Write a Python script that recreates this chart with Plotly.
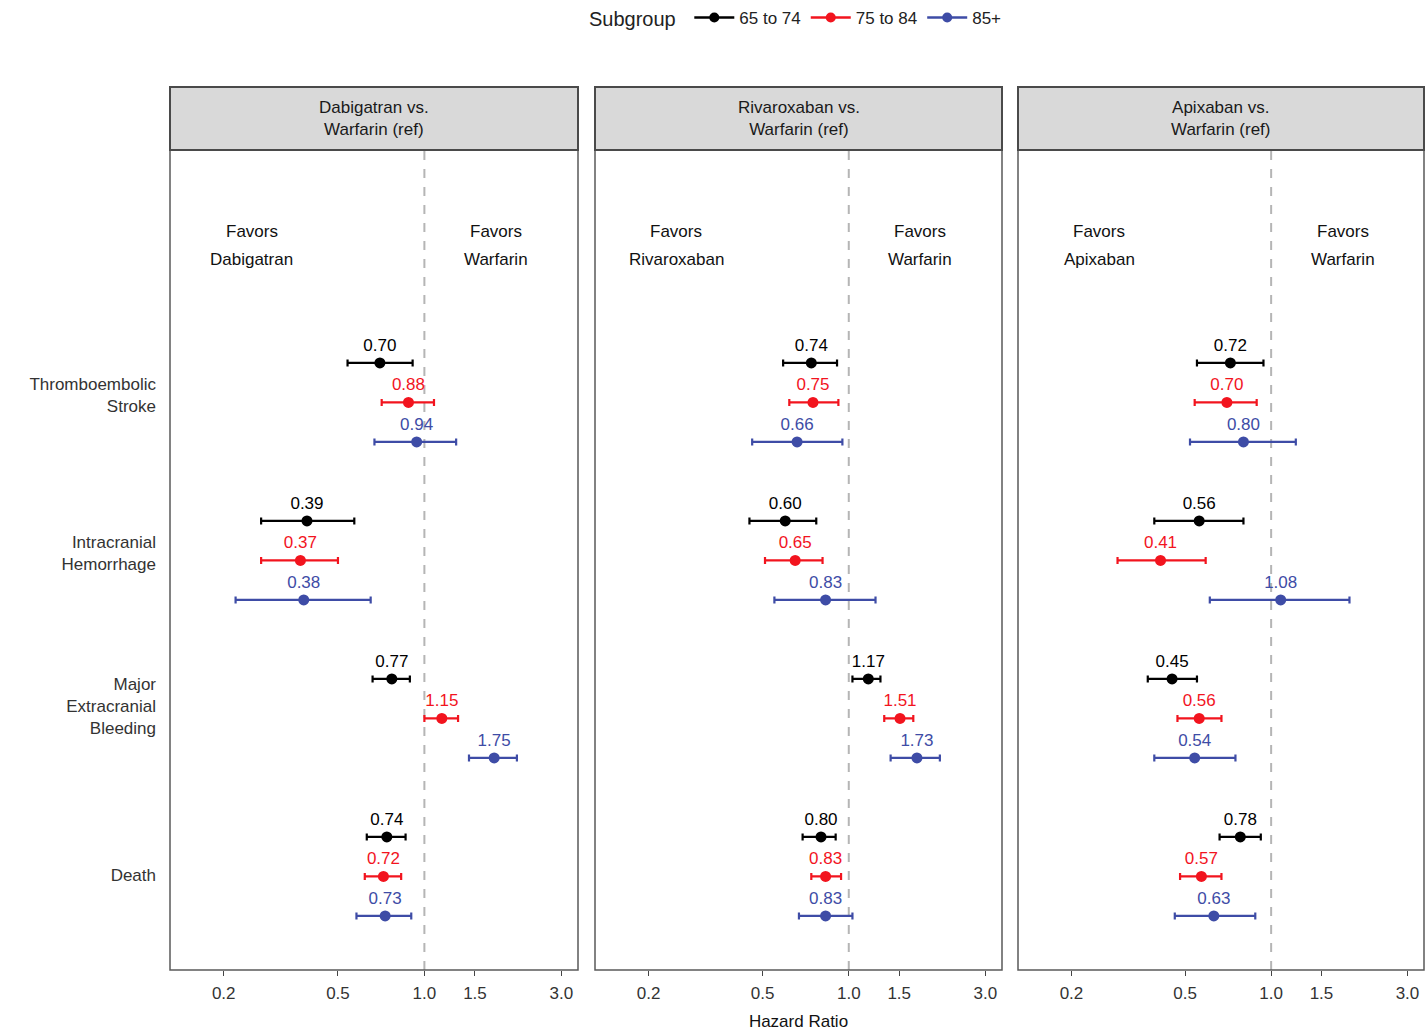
import math
import plotly.graph_objects as go

# ---- data ------------------------------------------------------------------
comparisons = ["Dabigatran", "Rivaroxaban", "Apixaban"]
outcomes = ["Thromboembolic<br>Stroke", "Intracranial<br>Hemorrhage",
            "Major<br>Extracranial<br>Bleeding", "Death"]
subgroups = ["65 to 74", "75 to 84", "85+"]

# hazard ratios [comparison][outcome][subgroup]
hr = [
    [[0.70, 0.88, 0.94], [0.39, 0.37, 0.38], [0.77, 1.15, 1.75], [0.74, 0.72, 0.73]],
    [[0.74, 0.75, 0.66], [0.60, 0.65, 0.83], [1.17, 1.51, 1.73], [0.80, 0.83, 0.83]],
    [[0.72, 0.70, 0.80], [0.56, 0.41, 1.08], [0.45, 0.56, 0.54], [0.78, 0.57, 0.63]],
]
ci_low = [
    [[0.54, 0.71, 0.67], [0.27, 0.27, 0.22], [0.66, 1.00, 1.43], [0.63, 0.62, 0.58]],
    [[0.59, 0.62, 0.46], [0.45, 0.51, 0.55], [1.03, 1.33, 1.40], [0.69, 0.74, 0.67]],
    [[0.55, 0.54, 0.52], [0.39, 0.29, 0.61], [0.37, 0.47, 0.39], [0.66, 0.48, 0.46]],
]
ci_high = [
    [[0.91, 1.08, 1.29], [0.57, 0.50, 0.65], [0.89, 1.31, 2.10], [0.86, 0.83, 0.90]],
    [[0.91, 0.92, 0.95], [0.77, 0.81, 1.24], [1.29, 1.68, 2.08], [0.90, 0.94, 1.03]],
    [[0.94, 0.89, 1.22], [0.80, 0.59, 1.88], [0.55, 0.67, 0.75], [0.92, 0.67, 0.88]],
]
tick_vals = [0.2, 0.5, 1.0, 1.5, 3.0]
tick_text = ["0.2", "0.5", "1.0", "1.5", "3.0"]

# ---- style -----------------------------------------------------------------
W, H = 1427, 1031
FONT = "Liberation Sans, Arial, sans-serif"
colors = ["#000000", "#F2141E", "#3E4CA6"]
text_gray = "#333333"
panel_px = [(170, 578), (595, 1002), (1018, 1424)]
panel_top, panel_bottom = 150, 970
strip_top = 87
x_range = [-0.886, 0.535]
row_step = 4              # rows between outcome groups
y_range = [15.37, -5.39]  # reversed: first outcome at the top
label_shift = [0.82, 0.81, 0.68, 0.96]  # vertical placement of outcome labels

def px_x(p):
    return p / W

def px_y(p):
    return 1 - p / H

fig = go.Figure()

# legend entries drawn as line + dot
for s, sg in enumerate(subgroups):
    fig.add_trace(go.Scatter(
        x=[None], y=[None], mode="lines+markers", name=sg,
        line=dict(color=colors[s], width=2.5),
        marker=dict(color=colors[s], size=10),
        legendgroup=sg, showlegend=True,
    ))

for c, comp in enumerate(comparisons):
    ax = "" if c == 0 else str(c + 1)
    for s, sg in enumerate(subgroups):
        xs, ys, plus, minus, labels = [], [], [], [], []
        for o in range(len(outcomes)):
            v = hr[c][o][s]
            xs.append(v)
            ys.append(o * row_step + s)
            plus.append(ci_high[c][o][s] - v)
            minus.append(v - ci_low[c][o][s])
            labels.append(f"{v:.2f}")
        fig.add_trace(go.Scatter(
            x=xs, y=ys, mode="markers+text",
            text=labels, textposition="top center",
            textfont=dict(family=FONT, size=17, color=colors[s]),
            marker=dict(color=colors[s], size=11),
            error_x=dict(type="data", symmetric=False, array=plus,
                         arrayminus=minus, color=colors[s], thickness=2.2,
                         width=3.5),
            name=sg, legendgroup=sg, showlegend=False,
            xaxis="x" + ax, yaxis="y" + ax, cliponaxis=False,
        ))

    x0, x1 = panel_px[c]
    xa = dict(
        type="log", range=x_range, domain=[px_x(x0), px_x(x1)],
        tickvals=tick_vals, ticktext=tick_text, ticks="outside",
        ticklen=5, tickcolor="#444444", tickwidth=1.2, ticklabelstandoff=3,
        tickfont=dict(family=FONT, size=17, color=text_gray),
        showgrid=False, zeroline=False, showline=False,
        anchor="y" + ax,
    )
    ya = dict(
        range=y_range, domain=[px_y(panel_bottom), px_y(panel_top)],
        showgrid=False, zeroline=False, showline=False,
        anchor="x" + ax,
    )
    if c == 0:
        ya.update(tickvals=[o * row_step + label_shift[o] for o in range(len(outcomes))],
                  ticktext=outcomes, ticks="", ticklabelstandoff=13,
                  tickfont=dict(family=FONT, size=17, color=text_gray))
    else:
        ya.update(showticklabels=False, matches="y")
    if c == 1:
        xa.update(title=dict(text="Hazard Ratio", standoff=14,
                             font=dict(family=FONT, size=17, color="#111111")))
    fig.layout["xaxis" + ax] = xa
    fig.layout["yaxis" + ax] = ya

    # reference line at HR = 1
    fig.add_shape(type="line", xref="x" + ax, yref="paper", x0=1, x1=1,
                  y0=px_y(panel_bottom), y1=px_y(panel_top),
                  line=dict(color="#b5b5b5", width=2, dash="dash"), layer="below")
    # panel border
    fig.add_shape(type="rect", xref="paper", yref="paper",
                  x0=px_x(x0), x1=px_x(x1), y0=px_y(panel_bottom), y1=px_y(panel_top),
                  line=dict(color="#5a5a5a", width=1.5))
    # strip header
    fig.add_shape(type="rect", xref="paper", yref="paper",
                  x0=px_x(x0), x1=px_x(x1), y0=px_y(panel_top), y1=px_y(strip_top),
                  fillcolor="#d9d9d9", line=dict(color="#4a4a4a", width=2))
    fig.add_annotation(xref="paper", yref="paper",
                       x=(px_x(x0) + px_x(x1)) / 2,
                       y=(px_y(panel_top) + px_y(strip_top)) / 2,
                       xanchor="center", yanchor="middle",
                       text=f"{comp} vs.<br>Warfarin (ref)", showarrow=False,
                       font=dict(family=FONT, size=17, color="#1a1a1a"))
    # favours labels
    for xv, words in [(0.25, ["Favors", comp]), (1.78, ["Favors", "Warfarin"])]:
        for line, yv in zip(words, [-3.32, -2.63]):
            fig.add_annotation(xref="x" + ax, yref="y" + ax,
                               x=math.log10(xv), y=yv, text=line,
                               showarrow=False,
                               font=dict(family=FONT, size=17, color="#111111"))

fig.update_layout(
    width=W, height=H,
    margin=dict(l=0, r=0, t=0, b=0),
    plot_bgcolor="white", paper_bgcolor="white",
    font=dict(family=FONT, size=17, color=text_gray),
    legend=dict(orientation="h", x=797 / W, xanchor="center", y=1.0, yanchor="top",
                title=dict(text="Subgroup ", side="left"),
                font=dict(family=FONT, size=17, color="#222222"),
                itemwidth=40, tracegroupgap=0),
)

fig.write_html("out.html")
